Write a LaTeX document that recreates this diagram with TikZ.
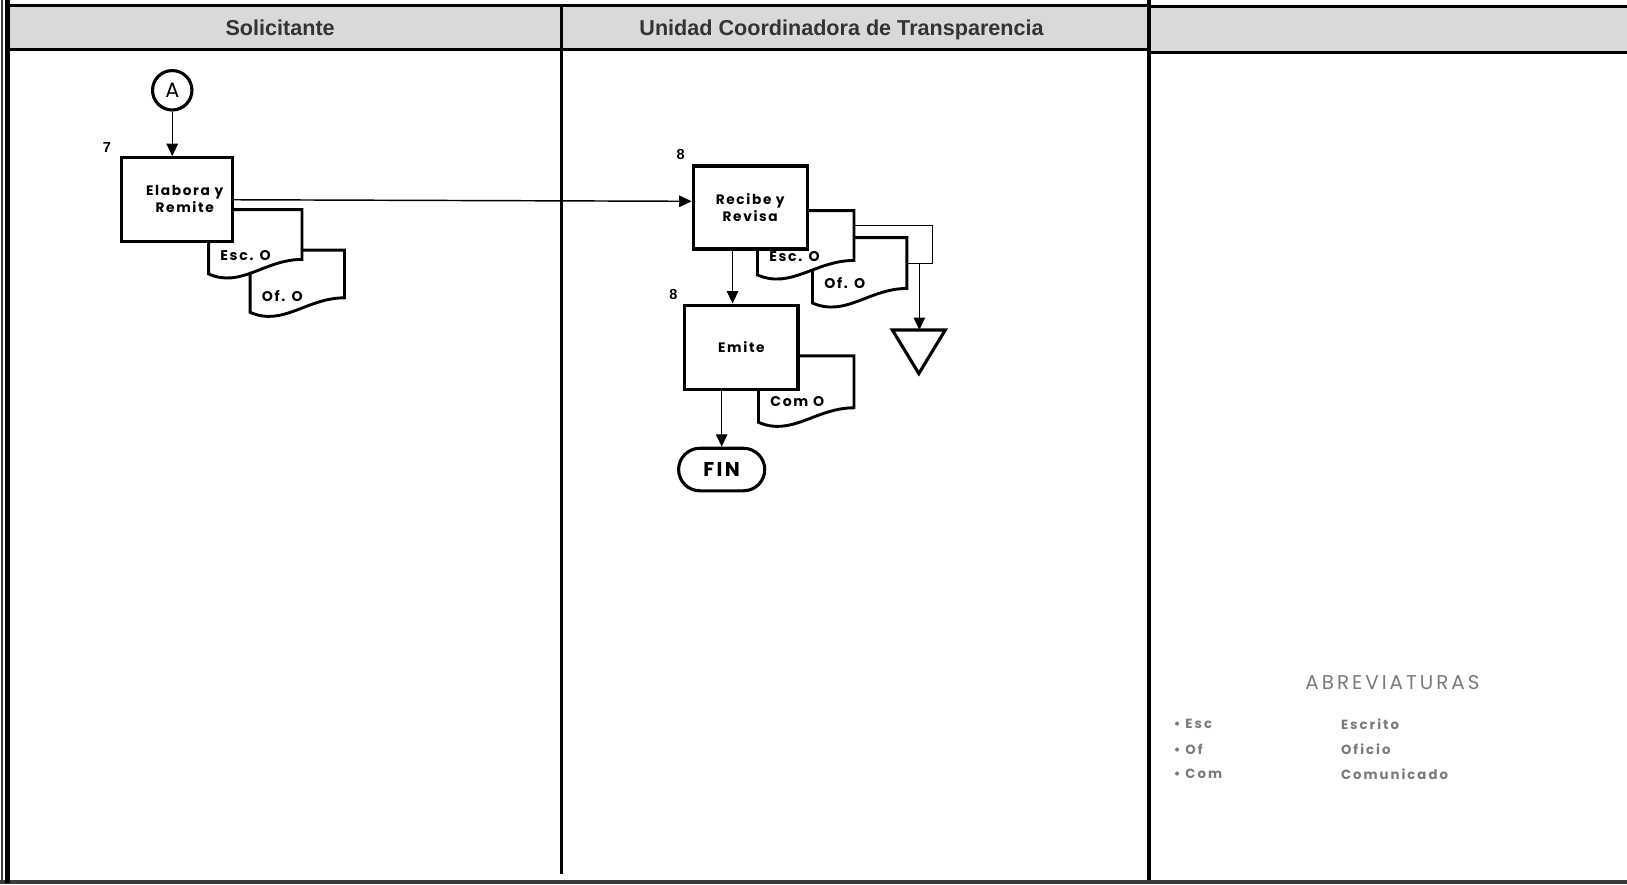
\documentclass[tikz,border=0pt]{standalone}
\usepackage{fontspec}
\setmainfont{Liberation Sans}
\newfontfamily\flowfont[LetterSpace=12]{Poppins}
\newfontfamily\legendfont[LetterSpace=15]{Poppins}
\usetikzlibrary{arrows.meta,shapes.misc}

\definecolor{laneHead}{HTML}{D9D9D9}
\definecolor{headInk}{HTML}{333333}
\definecolor{legendInk}{HTML}{7A7A7A}
\definecolor{frameInk}{HTML}{3A3A3A}

\tikzset{
  lanehead/.style={fill=laneHead, draw=black, line width=1.5pt},
  lanerule/.style={line width=1.6pt, draw=black},
  headtext/.style={font=\bfseries\fontsize{10.4}{12}\selectfont, text=headInk, anchor=base},
  boxfont/.style={font=\flowfont\bfseries\fontsize{6.6}{8.2}\selectfont},
  procbox/.style={draw, fill=white, line width=1.5pt, align=center, boxfont, inner sep=0pt},
  boxtext/.style={align=center, boxfont, inner sep=0pt},
  docsheet/.style={draw, fill=white, line width=1.4pt, line join=miter},
  doclabel/.style={font=\flowfont\bfseries\fontsize{6.8}{8}\selectfont, inner sep=0pt},
  stepnum/.style={font=\bfseries\fontsize{7}{8}\selectfont, inner sep=0pt},
  connA/.style={circle, draw, line width=1.5pt, minimum size=19pt, inner sep=0pt,
    font=\flowfont\fontsize{10}{12}\selectfont},
  terminal/.style={rounded rectangle, draw, line width=1.5pt, minimum width=41.5pt,
    minimum height=20.5pt, inner sep=0pt, font=\flowfont\bfseries\fontsize{9.6}{12}\selectfont},
  flow/.style={line width=0.7pt, -{Triangle[length=6pt, width=5.5pt]}},
  thinrule/.style={line width=0.6pt},
  archive/.style={draw, line width=1.5pt, line join=miter},
  legendhead/.style={font=\legendfont\fontsize{9.6}{11}\selectfont, text=legendInk, inner sep=0pt},
  legenditem/.style={font=\legendfont\bfseries\fontsize{6.4}{8}\selectfont, text=legendInk,
    inner sep=0pt, anchor=west},
}

% document symbol: name, x, y, width, height, label
\newcommand{\docsheet}[6]{%
  \draw[docsheet] (#2,#3) -- ++(#4,0) coordinate (#1-ne) -- ++(0,#5-14) coordinate (#1-se)
    .. controls +(-0.4*#4,0) and +(0.35*#4,14) .. (#2,#3+#5) -- cycle;
  \node[doclabel, anchor=west] (#1) at (#2+11,#3+44) {#6};
}

\begin{document}
\begin{tikzpicture}[x=0.5pt, y=-0.5pt]
\useasboundingbox (0,0) rectangle (1568,852);

% swimlane frame
\draw[lanehead] (7,5) rectangle (1107,48);
\draw[lanehead] (1107,6) rectangle (1572,51);
\draw[lanerule] (541,5) -- (541,842);
\draw[line width=1.8pt] (1107,0) -- (1107,850);
\draw[line width=1.6pt, draw=frameInk] (0,850) -- (1568,850);
\draw[line width=0.9pt, draw=frameInk] (2,0) -- (2,852);
\draw[line width=2.3pt] (7,0) -- (7,851);

\node[headtext] (laneSol) at (270,34) {Solicitante};
\node[headtext] (laneUct) at (811,34) {Unidad Coordinadora de Transparencia};

% Solicitante lane
\node[connA] (conA) at (166,87) {A};
\docsheet{elabOf}{241}{241}{91}{60}{Of. O}
\docsheet{elabEsc}{201}{202}{90}{62}{Esc. O}
\node[procbox, minimum width=53.5pt, minimum height=40.5pt] (elab) at (170.5,192.5) {};
\node[boxtext] (elabTxt) at (178,192) {Elabora y\\Remite};
\node[stepnum] (n7) at (103,142) {7};

% Unidad Coordinadora lane
\docsheet{recOf}{783}{229}{91}{63}{Of. O}
\docsheet{recEsc}{730}{203}{93}{62}{Esc. O}
\node[procbox, minimum width=55pt, minimum height=40pt] (recibe) at (723,200) {Recibe y\\Revisa};
\node[stepnum] (n8a) at (656,149) {8};

\docsheet{emiCom}{731}{343}{92}{64}{Com O}
\node[procbox, minimum width=54.5pt, minimum height=40.5pt] (emite) at (714.5,334.5) {Emite};
\node[stepnum] (n8b) at (649,284) {8};

\node[terminal] (fin) at (695.5,452.5) {FIN};

% archive triangle
\coordinate (arch) at (885.5,318);
\draw[archive] (arch) ++(-25.5,0) -- ++(51,0) -- ++(-25.5,42) -- cycle;

% connectors
\draw[flow] (conA.south) -- (conA.south |- elab.north);
\draw[flow] (elab.east) -- ([yshift=3pt]recibe.west);
\draw[flow] ([xshift=-8.5pt]recibe.south) coordinate (rs) -- (rs |- emite.north);
\draw[flow] (fin.north |- emite.south) -- (fin.north);

\coordinate (loopR) at (899,254);
\draw[thinrule] ([yshift=-7pt]recEsc-ne) -| (loopR) -- (loopR -| recOf-ne);
\coordinate (loopD) at (886,254);
\draw[flow] (loopD) -- (loopD |- arch);

% legend
\node[legendhead] (abrev) at (1342,658) {ABREVIATURAS};
\node[legenditem] (abEsc) at (1131,698) {• Esc};
\node[legenditem] (abOf) at (1131,722) {• Of};
\node[legenditem] (abCom) at (1131,746) {• Com};
\node[legenditem] (dsEsc) at (1292,698) {Escrito};
\node[legenditem] (dsOf) at (1292,722) {Oficio};
\node[legenditem] (dsCom) at (1292,746) {Comunicado};
\end{tikzpicture}
\end{document}
